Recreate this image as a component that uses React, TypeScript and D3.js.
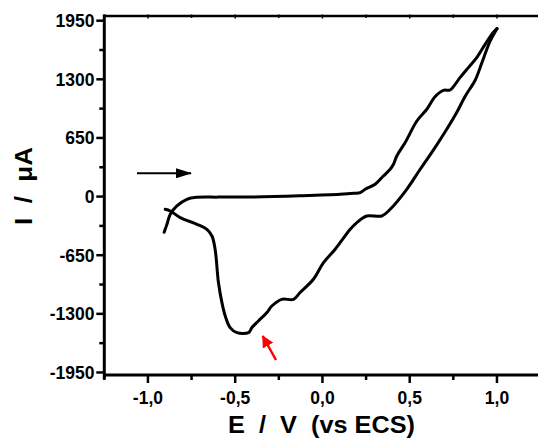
import React from "react";
import * as d3 from "d3";

const W = 538;
const H = 442;

// Forward (anodic) scan: potential (V vs ECS) and current (µA)
const forwardE = [-0.907, -0.89, -0.872, -0.834, -0.777, -0.719, -0.6, -0.414, -0.128, 0.101, 0.18, 0.216, 0.245, 0.302, 0.349, 0.388, 0.407, 0.426, 0.474, 0.541, 0.598, 0.646, 0.693, 0.731, 0.788, 0.836, 0.884, 0.932, 0.97, 1.0];
const forwardI = [-396, -300, -196, -104, -30, -8, -6, -5, 9, 25, 36, 44, 81, 136, 228, 303, 358, 450, 599, 838, 968, 1109, 1178, 1182, 1319, 1430, 1540, 1688, 1799, 1862];

// Reverse (cathodic) scan
const reverseE = [1.0, 0.96, 0.913, 0.875, 0.817, 0.77, 0.712, 0.645, 0.56, 0.483, 0.388, 0.34, 0.254, 0.197, 0.159, 0.073, 0.006, -0.052, -0.128, -0.166, -0.233, -0.29, -0.318, -0.367, -0.404, -0.424, -0.49, -0.529, -0.557, -0.576, -0.596, -0.615, -0.633, -0.662, -0.719, -0.815, -0.872, -0.901];
const reverseI = [1862, 1720, 1480, 1290, 1110, 935, 746, 543, 303, 81, -141, -215, -215, -288, -363, -584, -732, -917, -1064, -1139, -1139, -1213, -1286, -1379, -1452, -1508, -1508, -1452, -1324, -1175, -953, -584, -437, -363, -307, -233, -160, -141];

const xMajor = [-1.0, -0.5, 0.0, 0.5, 1.0];
const xMinor = [-1.25, -0.75, -0.25, 0.25, 0.75, 1.25];
const xTickLabels = ["-1,0", "-0,5", "0,0", "0,5", "1,0"];
const yMajor = [1950, 1300, 650, 0, -650, -1300, -1950];
const yMinor = [1625, 975, 325, -325, -975, -1625];

export default function App() {
  const x = d3.scaleLinear().domain([-1.25, 1.25]).range([104.3, 540.6]);
  const y = d3.scaleLinear().domain([-1978, 2002]).range([375, 16]);

  const fwd = forwardE.map((e, i) => [e, forwardI[i]] as [number, number]);
  const rev = reverseE.map((e, i) => [e, reverseI[i]] as [number, number]);
  const line = d3
    .line<[number, number]>()
    .x((d) => x(d[0]))
    .y((d) => y(d[1]))
    .curve(d3.curveCatmullRom.alpha(0.5));

  const font = "'Liberation Sans', Arial, sans-serif";
  const left = x(-1.25);
  const bottom = y(-1978);
  const top = y(2002);

  return (
    <svg
      width={W}
      height={H}
      style={{ position: "absolute", left: 0, top: 0, background: "#fff" }}
    >
      <defs>
        <marker id="ah" markerWidth="16" markerHeight="10" refX="15" refY="5" orient="auto" markerUnits="userSpaceOnUse">
          <path d="M0,0 L16,5 L0,10 Z" fill="#000" />
        </marker>
        <marker id="ahr" markerWidth="12" markerHeight="12" refX="11" refY="6" orient="auto" markerUnits="userSpaceOnUse">
          <path d="M0,0 L12,6 L0,12 Z" fill="#ff0000" />
        </marker>
      </defs>

      {/* curve */}
      <path d={line(fwd) || ""} fill="none" stroke="#000" strokeWidth={3} strokeLinejoin="round" strokeLinecap="round" />
      <path d={line(rev) || ""} fill="none" stroke="#000" strokeWidth={3} strokeLinejoin="round" strokeLinecap="round" />

      {/* frame */}
      <line x1={left} x2={W + 5} y1={top} y2={top} stroke="#000" strokeWidth={2.5} />
      <line x1={left} x2={W + 5} y1={bottom} y2={bottom} stroke="#000" strokeWidth={3} />
      <line x1={left} x2={left} y1={top - 1.5} y2={bottom + 4} stroke="#000" strokeWidth={3} />

      {/* x ticks */}
      {xMajor.map((v, i) => (
        <g key={"xm" + i}>
          <line x1={x(v)} x2={x(v)} y1={bottom} y2={bottom + 8} stroke="#000" strokeWidth={2.5} />
          <line x1={x(v)} x2={x(v)} y1={top - 1.5} y2={top + 2.5} stroke="#000" strokeWidth={1.5} />
          <text x={x(v)} y={404} textAnchor="middle" fontFamily={font} fontWeight="bold" fontSize={17.5} fill="#000">
            {xTickLabels[i]}
          </text>
        </g>
      ))}
      {xMinor.map((v, i) => (
        <g key={"xn" + i}>
          <line x1={x(v)} x2={x(v)} y1={bottom} y2={bottom + 5} stroke="#000" strokeWidth={2.5} />
          <line x1={x(v)} x2={x(v)} y1={top - 1.5} y2={top + 2} stroke="#000" strokeWidth={1.5} />
        </g>
      ))}

      {/* y ticks */}
      {yMajor.map((v, i) => (
        <g key={"ym" + i}>
          <line x1={left - 8} x2={left} y1={y(v)} y2={y(v)} stroke="#000" strokeWidth={2.5} />
          <text x={94.5} y={y(v)} dy="0.36em" textAnchor="end" fontFamily={font} fontWeight="bold" fontSize={17.5} fill="#000">
            {String(v)}
          </text>
        </g>
      ))}
      {yMinor.map((v, i) => (
        <line key={"yn" + i} x1={left - 5} x2={left} y1={y(v)} y2={y(v)} stroke="#000" strokeWidth={2.5} />
      ))}

      {/* axis titles */}
      <text x={321.5} y={433} textAnchor="middle" fontFamily={font} fontWeight="bold" fontSize={23} fill="#000"
        textLength={187} lengthAdjust="spacingAndGlyphs" style={{ whiteSpace: "pre" }}>
        {"E  /  V  (vs ECS)"}
      </text>
      <text
        transform="translate(31.5,186) rotate(-90)"
        textAnchor="middle"
        fontFamily={font}
        fontWeight="bold"
        fontSize={24}
        fill="#000"
        textLength={78}
        lengthAdjust="spacingAndGlyphs"
        style={{ whiteSpace: "pre" }}
      >
        {"I  /  μA"}
      </text>

      {/* arrows */}
      <line x1={137} y1={173.3} x2={191} y2={173.3} stroke="#000" strokeWidth={2} markerEnd="url(#ah)" />
      <line x1={276} y1={360} x2={262.7} y2={336} stroke="#ff0000" strokeWidth={2.5} markerEnd="url(#ahr)" />
    </svg>
  );
}
